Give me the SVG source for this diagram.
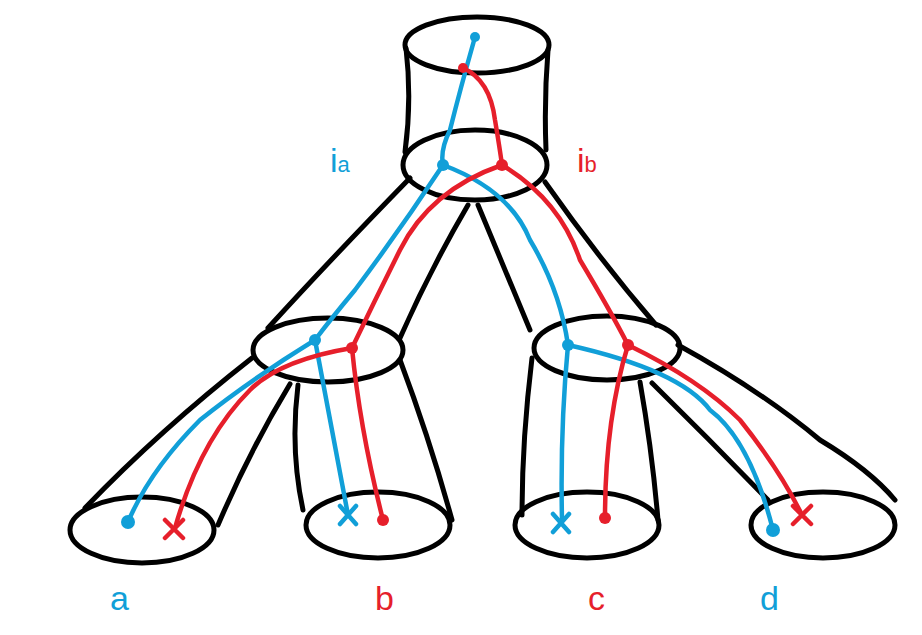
<svg xmlns="http://www.w3.org/2000/svg" width="922" height="635" viewBox="0 0 922 635">
<style>
.k{fill:none;stroke:#000;stroke-width:5;stroke-linecap:round;stroke-linejoin:round}
.b{fill:none;stroke:#119fd8;stroke-width:4.5;stroke-linecap:round;stroke-linejoin:round}
.r{fill:none;stroke:#e61f2b;stroke-width:4.5;stroke-linecap:round;stroke-linejoin:round}
.t{font-family:"Liberation Sans",Arial,sans-serif;font-size:34px}
</style>
<rect width="922" height="635" fill="#fff"/>
<g id="tubes">
<ellipse class="k" cx="477" cy="45" rx="72" ry="28"/>
<ellipse class="k" cx="475" cy="165" rx="72" ry="35"/>
<path class="k" d="M406 48 Q412 100 405 152 M548 50 Q544 100 546 150"/>
<path class="k" d="M410 178 Q330 260 268 328 M468 205 Q430 270 400 338 M478 205 Q505 270 530 330 M545 182 Q600 260 656 325"/>
<ellipse class="k" cx="328" cy="350" rx="75" ry="32"/>
<ellipse class="k" cx="607" cy="348" rx="73" ry="32"/>
<path class="k" d="M252 358 Q160 430 85 508 M290 384 Q250 450 218 525 M298 385 Q290 450 303 510 M400 360 Q430 440 452 520"/>
<path class="k" d="M532 358 Q522 440 522 515 M640 382 Q652 450 658 520 M652 383 Q710 440 768 500 M678 345 Q760 390 820 440 Q870 470 895 500"/>
<ellipse class="k" cx="142" cy="530" rx="72" ry="33"/>
<ellipse class="k" cx="378" cy="525" rx="72" ry="33"/>
<ellipse class="k" cx="587" cy="525" rx="72" ry="33"/>
<ellipse class="k" cx="823" cy="525" rx="72" ry="33"/>
</g>
<g id="wires">
<path class="b" d="M475 37 Q460 90 450 130 Q440 150 443 165 Q400 230 355 290 Q330 320 315 340 Q250 380 200 420 Q150 470 128 522"/>
<path class="b" d="M443 165 Q510 190 530 240 Q560 290 568 345 Q560 430 562 520"/>
<path class="b" d="M568 345 Q680 370 710 410 Q750 440 773 530"/>
<path class="b" d="M315 340 Q330 420 348 515"/>
<path class="r" d="M463 68 Q490 80 495 120 Q500 150 502 165 Q430 190 400 250 Q375 300 352 348 Q280 360 250 390 Q200 440 175 528"/>
<path class="r" d="M502 165 Q560 200 580 260 Q610 310 628 345 Q605 420 605 518"/>
<path class="r" d="M628 345 Q700 380 740 420 Q780 470 802 515"/>
<path class="r" d="M352 348 Q360 430 383 520"/>
<g fill="#119fd8"><circle cx="475" cy="37" r="5"/><circle cx="443" cy="165" r="6"/><circle cx="315" cy="340" r="6"/><circle cx="568" cy="345" r="6"/><circle cx="128" cy="522" r="7"/><circle cx="773" cy="530" r="7"/></g>
<g fill="#e61f2b"><circle cx="463" cy="68" r="5"/><circle cx="502" cy="165" r="6"/><circle cx="352" cy="348" r="6"/><circle cx="628" cy="345" r="6"/><circle cx="383" cy="520" r="6"/><circle cx="605" cy="518" r="6"/></g>
<path class="b" d="M340 506 L356 524 M356 506 L340 524 M553 514 L569 532 M569 514 L553 532"/>
<path class="r" d="M165 520 L183 538 M183 520 L165 538 M793 506 L811 524 M811 506 L793 524"/>
</g>
<g id="labels" class="t">
<text x="330" y="172" fill="#119fd8">i<tspan font-size="22">a</tspan></text>
<text x="577" y="172" fill="#e61f2b">i<tspan font-size="22">b</tspan></text>
<text x="110" y="610" fill="#119fd8">a</text>
<text x="375" y="610" fill="#e61f2b">b</text>
<text x="588" y="610" fill="#e61f2b">c</text>
<text x="760" y="610" fill="#119fd8">d</text>
</g>
</svg>
